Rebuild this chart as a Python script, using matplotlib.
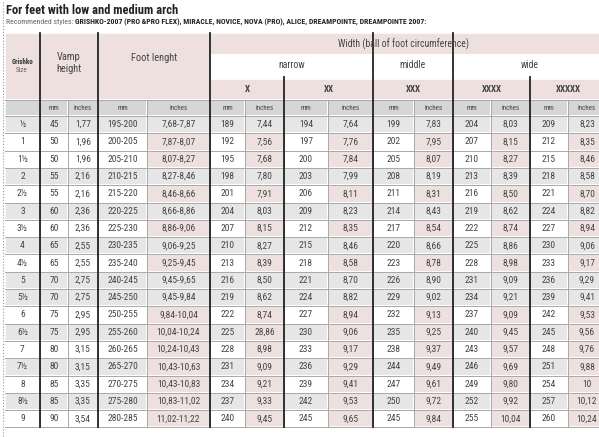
import matplotlib
matplotlib.use('Agg')
import matplotlib.pyplot as plt
from matplotlib import font_manager
from matplotlib.patches import Rectangle

names = {f.name for f in font_manager.fontManager.ttflist}
narrow = next((n for n in ['Liberation Sans Narrow', 'DejaVu Sans Condensed', 'Roboto Condensed'] if n in names),
              'DejaVu Sans')
plt.rcParams['font.family'] = [narrow, 'DejaVu Sans']

sizes = ['½', '1', '1½', '2', '2½', '3', '3½', '4', '4½', '5', '5½', '6', '6½', '7', '7½', '8', '8½', '9']
vamp_mm = ['45', '50', '50', '55', '55', '60', '60', '65', '65', '70', '70', '75', '75', '80', '80', '85', '85', '90']
vamp_in = ['1,77', '1,96', '1,96', '2,16', '2,16', '2,36', '2,36', '2,55', '2,55', '2,75', '2,75', '2,95', '2,95',
           '3,15', '3,15', '3,35', '3,35', '3,54']
foot_mm = ['195-200', '200-205', '205-210', '210-215', '215-220', '220-225', '225-230', '230-235', '235-240',
           '240-245', '245-250', '250-255', '255-260', '260-265', '265-270', '270-275', '275-280', '280-285']
foot_in = ['7,68-7,87', '7,87-8,07', '8,07-8,27', '8,27-8,46', '8,46-8,66', '8,66-8,86', '8,86-9,06', '9,06-9,25',
           '9,25-9,45', '9,45-9,65', '9,45-9,84', '9,84-10,04', '10,04-10,24', '10,24-10,43', '10,43-10,63',
           '10,43-10,83', '10,83-11,02', '11,02-11,22']
x_mm = ['189', '192', '195', '198', '201', '204', '207', '210', '213', '216', '219', '222', '225', '228', '231', '234', '237', '240']
x_in = ['7,44', '7,56', '7,68', '7,80', '7,91', '8,03', '8,15', '8,27', '8,39', '8,50', '8,62', '8,74', '28,86',
        '8,98', '9,09', '9,21', '9,33', '9,45']
xx_mm = ['194', '197', '200', '203', '206', '209', '212', '215', '218', '221', '224', '227', '230', '233', '236', '239', '242', '245']
xx_in = ['7,64', '7,76', '7,84', '7,99', '8,11', '8,23', '8,35', '8,46', '8,58', '8,70', '8,82', '8,94', '9,06',
         '9,17', '9,29', '9,41', '9,53', '9,65']
xxx_mm = ['199', '202', '205', '208', '211', '214', '217', '220', '223', '226', '229', '232', '235', '238', '244', '247', '250', '245']
xxx_in = ['7,83', '7,95', '8,07', '8,19', '8,31', '8,43', '8,54', '8,66', '8,78', '8,90', '9,02', '9,13', '9,25',
          '9,37', '9,49', '9,61', '9,72', '9,84']
x4_mm = ['204', '207', '210', '213', '216', '219', '222', '225', '228', '231', '234', '237', '240', '243', '246', '249', '252', '255']
x4_in = ['8,03', '8,15', '8,27', '8,39', '8,50', '8,62', '8,74', '8,86', '8,98', '9,09', '9,21', '9,09', '9,45',
         '9,57', '9,69', '9,80', '9,92', '10,04']
x5_mm = ['209', '212', '215', '218', '221', '224', '227', '230', '233', '236', '239', '242', '245', '248', '251', '254', '257', '260']
x5_in = ['8,23', '8,35', '8,46', '8,58', '8,70', '8,82', '8,94', '9,06', '9,17', '9,29', '9,41', '9,53', '9,56',
         '9,76', '9,88', '10', '10,12', '10,24']
grey_rows = [1, 0, 0, 1, 0, 1, 0, 1, 0, 1, 1, 0, 1, 0, 1, 0, 1, 0]

columns = [sizes, vamp_mm, vamp_in, foot_mm, foot_in, x_mm, x_in, xx_mm, xx_in,
           xxx_mm, xxx_in, x4_mm, x4_in, x5_mm, x5_in]
edges = [5, 40, 68, 98, 147, 210, 245, 284, 328, 373, 414, 453, 491, 530, 568, 606]

PINK = '#efe0e0'
GREY = '#e6e6e6'
UNIT = '#d6d6d6'
LINE = '#a8a8a8'
TXT = '#444444'

fig = plt.figure(figsize=(5.99, 4.37), dpi=100)
ax = fig.add_axes([0, 0, 1, 1])
ax.set_xlim(0, 599)
ax.set_ylim(437, 0)
ax.axis('off')


def cell(x0, x1, y0, y1, fc, text='', size=6.5, color=TXT, bold=False):
    ax.add_patch(Rectangle((x0, y0), x1 - x0, y1 - y0, fc=fc, ec='white', lw=1.2))
    if text:
        ax.text((x0 + x1) / 2, (y0 + y1) / 2, text, ha='center', va='center', fontsize=size,
                color=color, fontweight='bold' if bold else 'normal')


# title
ax.text(6, 10, 'For feet with low and medium arch', fontsize=9, fontweight='bold', color='#222222', va='center')
renderer = fig.canvas.get_renderer()
sub_size = 7.0
for _ in range(2):
    t1 = ax.text(6, 22, 'Recommended styles: ', fontsize=sub_size, color='#666666', va='center')
    b1 = t1.get_window_extent(renderer)
    t2 = ax.text(6 + b1.width, 22,
                 'GRISHKO-2007 (PRO &PRO FLEX), MIRACLE, NOVICE, NOVA (PRO), ALICE, DREAMPOINTE, DREAMPOINTE 2007:',
                 fontsize=sub_size, fontweight='bold', color='#222222', va='center')
    total = b1.width + t2.get_window_extent(renderer).width
    if total <= 425:
        break
    t1.remove()
    t2.remove()
    sub_size = sub_size * 420 / total
ax.plot([2.5, 2.5], [2, 437], color='#999999', lw=0.8, ls=':')

top, y_w, y_n, y_s, y_u, y_d = 33, 55, 75, 100, 116, 116
row_h = 17.3

# header
cell(edges[0], edges[1], top, y_u, PINK)
ax.text(22, 64, 'Grishko', fontsize=5, fontweight='bold', color='#333333', ha='center')
ax.text(22, 72, 'Size', fontsize=5, color='#666666', ha='center')
cell(edges[1], edges[3], top, y_u, PINK)
ax.text(69, 63, 'Vamp\nheight', fontsize=7.5, color=TXT, ha='center', va='center', linespacing=1.2)
cell(edges[3], edges[5], top, y_u, PINK)
ax.text(154, 58, 'Foot lenght', fontsize=7.5, color=TXT, ha='center', va='center')
cell(edges[5], 606, top, y_w, PINK)
ax.text(404, 44, 'Width (ball of foot circumference)', fontsize=7, color=TXT, ha='center', va='center')
cell(edges[5], edges[9], y_w, y_n, 'white', 'narrow', 7)
cell(edges[9], edges[11], y_w, y_n, 'white', 'middle', 7)
cell(edges[11], 606, y_w, y_n, 'white', 'wide', 7)
for k, name in enumerate(['X', 'XX', 'XXX', 'XXXX', 'XXXXX']):
    cell(edges[5 + 2 * k], edges[7 + 2 * k], y_n + 4, y_s, PINK, name, 6.5, bold=True)
for i in range(len(columns)):
    cell(edges[i], edges[i + 1], y_s, y_u, UNIT, '' if i == 0 else ('mm' if i % 2 == 1 else 'inches'), 5)

# body
for r in range(len(sizes)):
    y0 = y_d + r * row_h
    for i, col in enumerate(columns):
        pinkish = i % 2 == 0 and i >= 4 and (not grey_rows[r] or r >= 12)
        fc = PINK if pinkish else (GREY if grey_rows[r] else 'white')
        cell(edges[i], edges[i + 1], y0, y0 + row_h, fc, col[r], 6.8)

# grid lines
y_end = y_d + len(sizes) * row_h
for i in range(1, len(columns)):
    ax.plot([edges[i], edges[i]], [y_s, y_end], color=LINE, lw=0.7)
for r in range(len(sizes) + 1):
    ax.plot([edges[0], 606], [y_d + r * row_h] * 2, color=LINE, lw=0.7)
ax.plot([edges[0], 606], [y_s] * 2, color=LINE, lw=0.7)
for e in [edges[1], edges[3], edges[5], edges[9], edges[11]]:
    ax.plot([e, e], [top, y_end], color='#222222', lw=1.3)
for e in [edges[7], edges[13]]:
    ax.plot([e, e], [y_n + 2, y_end], color='#222222', lw=1.3)

fig.savefig('out.png', dpi=100)
